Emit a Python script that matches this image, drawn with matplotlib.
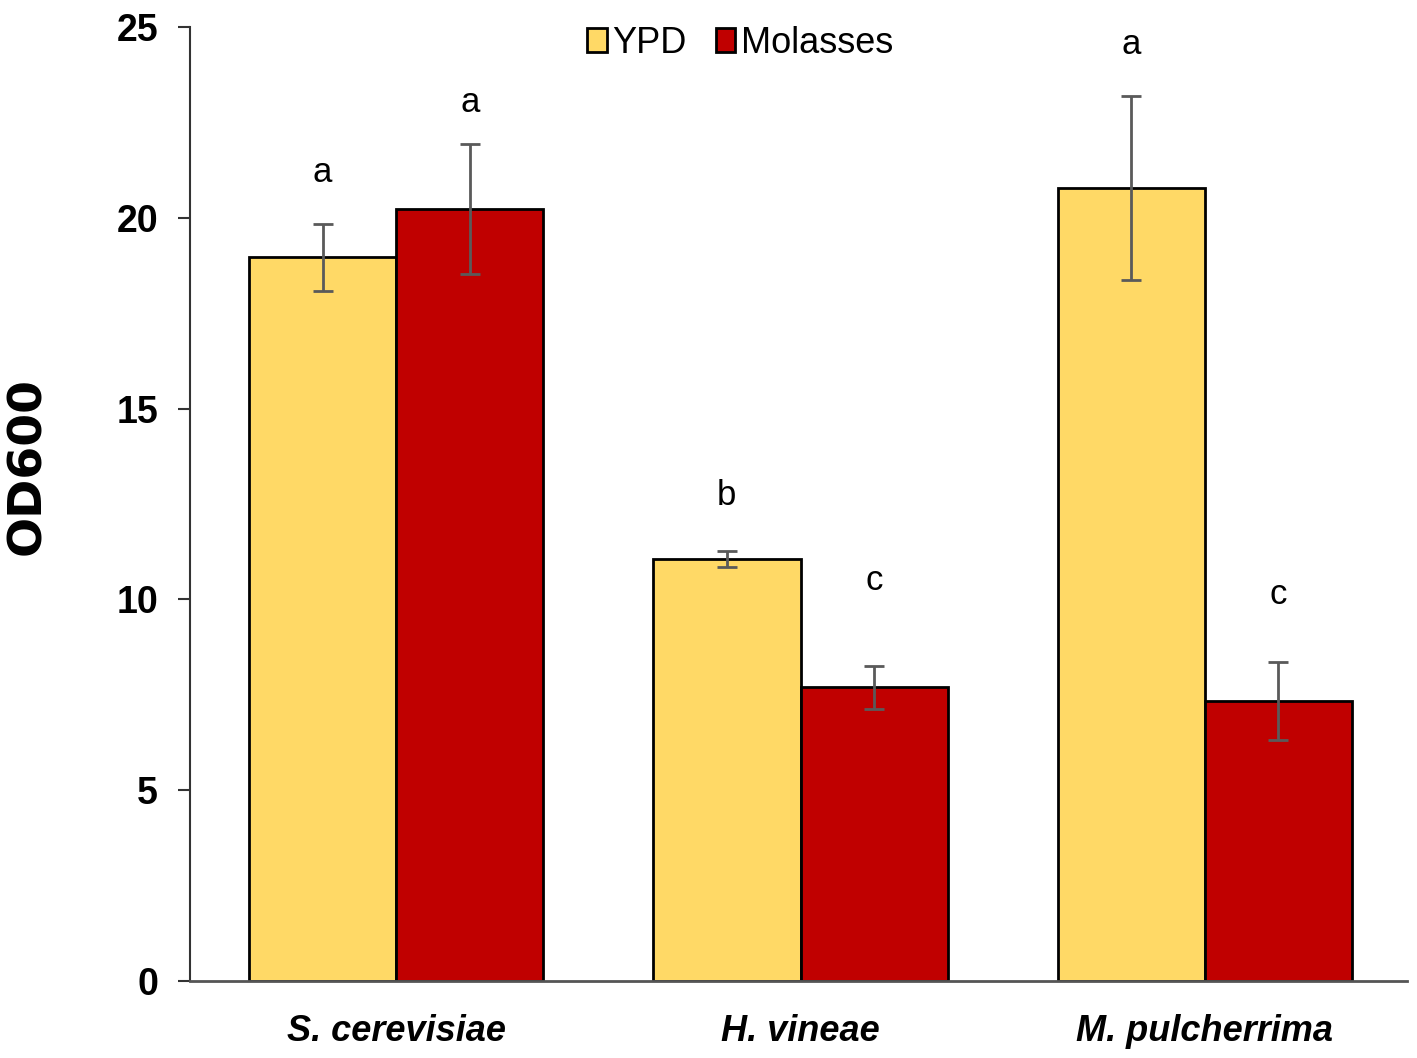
import numpy as np
import matplotlib.pyplot as plt
from matplotlib import font_manager

species = ['S. cerevisiae', 'H. vineae', 'M. pulcherrima']
ypd = [18.97, 11.06, 20.78]
ypd_err = [0.88, 0.2, 2.4]
molasses = [20.23, 7.70, 7.34]
molasses_err = [1.7, 0.56, 1.03]
ypd_letters = ['a', 'b', 'a']
molasses_letters = ['a', 'c', 'c']
# letter baselines (data units)
ypd_letter_y = [20.93, 12.47, 24.29]
molasses_letter_y = [22.77, 10.25, 9.89]

names = {f.name for f in font_manager.fontManager.ttflist}
narrow = 'Liberation Sans Narrow' if 'Liberation Sans Narrow' in names else 'Liberation Sans'

fig = plt.figure(figsize=(14.17, 10.58), dpi=100)
ax = fig.add_axes([0.134, 0.0728, 0.859, 0.9017])

x = np.arange(len(species))
w = 0.364
ekw = dict(ecolor='#5a5a5a', elinewidth=2, capsize=7, capthick=2)
ax.bar(x - w / 2, ypd, w, yerr=ypd_err, color='#ffd966', edgecolor='black',
       linewidth=2, label='YPD', error_kw=ekw)
ax.bar(x + w / 2, molasses, w, yerr=molasses_err, color='#c00000', edgecolor='black',
       linewidth=2, label='Molasses', error_kw=ekw)

for i in range(len(species)):
    ax.text(x[i] - w / 2, ypd_letter_y[i], ypd_letters[i], ha='center',
            va='baseline', fontsize=25, family=narrow)
    ax.text(x[i] + w / 2, molasses_letter_y[i], molasses_letters[i],
            ha='center', va='baseline', fontsize=25, family=narrow)

ax.set_xlim(-0.51, 2.5)
ax.set_ylim(0, 25)
ax.set_yticks([0, 5, 10, 15, 20, 25])
ax.set_xticks(x)
ax.set_xticklabels(species, fontsize=26, fontweight='bold', style='italic', family=narrow)
for lab in ax.get_yticklabels():
    lab.set_fontsize(27)
    lab.set_fontweight('bold')
    lab.set_family(narrow)
ax.tick_params(axis='x', length=0, pad=24)
ax.tick_params(axis='y', length=9, width=1.5, color='#333333', pad=14)
ax.spines['top'].set_visible(False)
ax.spines['right'].set_visible(False)
ax.spines['left'].set_color('#333333')
ax.spines['left'].set_linewidth(1.5)
ax.spines['bottom'].set_color('#555555')
ax.spines['bottom'].set_linewidth(2)
ax.set_ylabel('OD600', fontsize=34, fontweight='bold')
ax.yaxis.set_label_coords(-0.115, 0.54)

leg = ax.legend(loc='upper center', bbox_to_anchor=(0.452, 1.035), ncol=2, frameon=False,
                prop={'family': narrow, 'size': 26}, handlelength=0.55, handleheight=0.65,
                handletextpad=0.15, columnspacing=0.8)

fig.savefig('out.png', dpi=100)
